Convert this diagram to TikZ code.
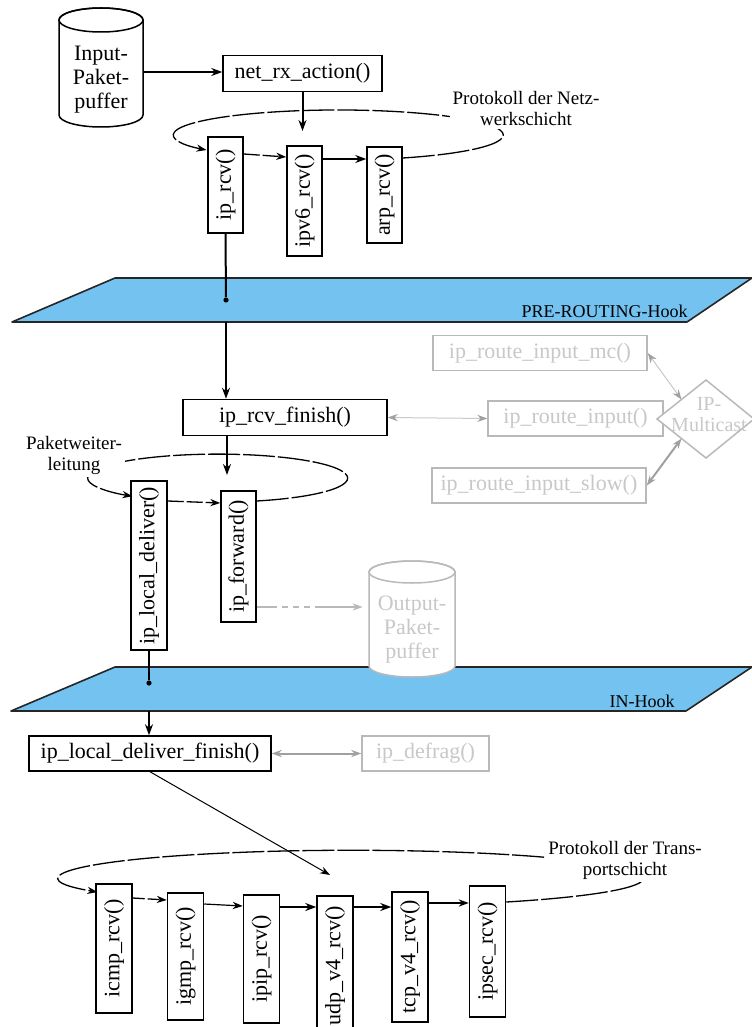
\documentclass[tikz,border=0pt]{standalone}
\usepackage{fontspec}
\setmainfont{Liberation Serif}
\usetikzlibrary{arrows.meta,calc}

\definecolor{hookblue}{RGB}{115,194,240}
\definecolor{paleline}{RGB}{185,185,185}
\definecolor{paletext}{RGB}{200,200,200}
\definecolor{midgray}{RGB}{160,160,160}

\tikzset{
  boxfont/.style={font=\fontsize{11}{12}\selectfont},
  fn/.style={boxfont, draw, line width=0.75pt, fill=white, inner sep=0pt, minimum height=18pt},
  vfn/.style={fn, rotate=90, minimum height=17.5pt},
  ghost/.style={boxfont, draw=paleline, line width=0.75pt, fill=white, inner sep=0pt,
    text=paletext, minimum height=17.5pt},
  flow/.style={line width=1pt, -{Stealth[length=5.5pt,width=4pt]}},
  ring/.style={line width=0.65pt, dash pattern=on 16pt off 1.5pt},
  ringtip/.style={-{Stealth[length=5pt,width=3.6pt]}},
  hook/.style={fill=hookblue, draw=black!85, line width=0.8pt, line join=round},
  hooklabel/.style={font=\fontsize{9}{10}\selectfont, anchor=base east, inner sep=0pt},
  note/.style={fill=white, inner sep=1.5pt, align=center, font=\fontsize{9.5}{10.5}\selectfont},
  pierce/.style={circle, fill=black, inner sep=0pt, minimum size=2.6pt},
  link/.style={draw=#1, arrows={Stealth[length=5pt,width=3.6pt,color=midgray]-Stealth[length=5pt,width=3.6pt,color=midgray]}},
  bufline/.style={line width=0.75pt, fill=white},
}

\begin{document}
\begin{tikzpicture}[x=0.5pt, y=-0.5pt]
\useasboundingbox (0,0) rectangle (751,1027);

% ---------- input packet buffer ----------
\draw[bufline] (59,20) -- (59,115) arc[start angle=180, end angle=0, x radius=42, y radius=12]
  -- (143,20) arc[start angle=0, end angle=-180, x radius=42, y radius=12] -- cycle;
\draw[line width=0.75pt] (101,20) ellipse[x radius=42, y radius=12];
\node[boxfont, align=center, inner sep=0pt, minimum width=42pt, minimum height=50pt] (inbuf)
  at (101,80) {Input-\\Paket-\\puffer};

\node[fn, minimum width=79.5pt] (netrx) at (302.5,73.5) {net\_rx\_action()};
\draw[flow] (inbuf.east |- 0,72) -- (netrx.west |- 0,72);
\coordinate (netin) at (302.5,131);
\draw[flow] (netrx.south) -- (netin);

% ---------- network layer protocols ----------
\node[vfn, minimum width=48pt] (iprcv) at (225.5,185) {ip\_rcv()};
\node[vfn, minimum width=55pt] (ipv6) at (304.5,201) {ipv6\_rcv()};
\node[vfn, minimum width=48pt] (arp) at (384.5,195) {arp\_rcv()};

\draw[ring, ringtip] (arp.south |- 0,158) arc[start angle=67, end angle=-217, x radius=165, y radius=25];
\draw[ring, dash pattern=on 8pt off 1.5pt, ringtip] (iprcv.south |- 0,154) -- (ipv6.north |- 0,157);
\draw[flow] (ipv6.south |- 0,159) -- (arp.north |- 0,159);
\node[note] (netlbl) at (526,109) {Protokoll der Netz-\\werkschicht};

% ---------- PRE-ROUTING hook ----------
\draw[hook] (12,322) -- (115,278) -- (752,278) -- (687,322) -- cycle;
\node[hooklabel] (prelbl) at (688,317) {PRE-ROUTING-Hook};
\node[pierce] (predot) at (226,300) {};
\draw[line width=1pt] (iprcv.west) -- (predot);
\coordinate (preout) at (226,322);

\node[fn, minimum width=102pt] (iprcvfin) at (285,417.5) {ip\_rcv\_finish()};
\draw[flow] (preout) -- (preout |- iprcvfin.north);

% ---------- routing functions ----------
\node[ghost, minimum width=107pt] (rmc) at (540,353) {ip\_route\_input\_mc()};
\node[ghost, minimum width=87.5pt] (rin) at (575.5,418.5) {ip\_route\_input()};
\node[ghost, minimum width=107pt] (rslow) at (539,485.5) {ip\_route\_input\_slow()};

\coordinate (dN) at (706,380);
\coordinate (dE) at (754,419);
\coordinate (dS) at (706,458);
\coordinate (dW) at (657,419);
\draw[draw=paleline, line width=0.75pt, fill=white] (dN) -- (dE) -- (dS) -- (dW) -- cycle;
\node[text=paletext, align=center, inner sep=0pt, font=\fontsize{10}{10.5}\selectfont] (mcast)
  at (709,415) {IP-\\Multicast};

\draw[link=paletext, line width=0.5pt] (iprcvfin.east) -- (rin.west);
\draw[link=paletext, line width=0.5pt] (rmc.east) -- ($(dN)!0.5!(dW)$);
\draw[link=midgray, line width=1pt] (rslow.east) -- ($(dS)!0.5!(dW)$);

% ---------- packet forwarding ----------
\node[vfn, minimum width=84.5pt, minimum height=18pt] (localdel) at (149,565.5) {ip\_local\_deliver()};
\node[vfn, minimum width=65.5pt] (forward) at (238.5,556.5) {ip\_forward()};

\draw[ring, ringtip] (forward.south |- 0,501) arc[start angle=72.5, end angle=-229, x radius=130, y radius=24];
\draw[ring, dash pattern=on 8pt off 1.5pt, ringtip] (localdel.south |- 0,501) -- (forward.north |- 0,503);
\node[note] (fwdlbl) at (74,455) {Paketweiter-\\leitung};

\coordinate (fwdin) at (227,475);
\draw[flow] (fwdin |- iprcvfin.south) -- (fwdin);

% ---------- IN hook ----------
\draw[hook] (11,711) -- (115,667) -- (752,667) -- (686,711) -- cycle;
\node[hooklabel] (inlbl) at (675,707) {IN-Hook};
\node[pierce] (indot) at (149,683) {};
\draw[line width=1pt] (localdel.west) -- (indot);
\coordinate (inout) at (149,711);

% ---------- output packet buffer ----------
\draw[bufline, draw=paleline] (369,572) -- (369,666) arc[start angle=180, end angle=0, x radius=43, y radius=11]
  -- (455,572) arc[start angle=0, end angle=-180, x radius=43, y radius=11] -- cycle;
\draw[line width=0.75pt, draw=paleline] (412,572) ellipse[x radius=43, y radius=11];
\node[boxfont, text=paletext, align=center, inner sep=0pt, minimum width=43pt, minimum height=40pt] (outbuf)
  at (412,630) {Output-\\Paket-\\puffer};
\draw[draw=paleline, line width=0.75pt, dash pattern=on 10pt off 2.5pt on 3pt off 2.5pt on 3pt off 2.5pt on 3pt off 2.5pt on 30pt,
  -{Stealth[length=5pt,width=3.6pt]}, shorten >=3pt] (forward.south |- 0,607) -- (outbuf.west |- 0,607);

% ---------- local delivery ----------
\node[fn, minimum width=121pt, minimum height=17.5pt] (ldf) at (150,753.5) {ip\_local\_deliver\_finish()};
\draw[flow] (inout) -- (inout |- ldf.north);
\node[ghost, minimum width=63.5pt] (defrag) at (425.5,753.5) {ip\_defrag()};
\draw[link=midgray, line width=1pt] (ldf.east) -- (defrag.west);

% ---------- transport layer protocols ----------
\node[vfn, minimum width=64.5pt, minimum height=18pt] (icmp) at (114,948.5) {icmp\_rcv()};
\node[vfn, minimum width=63.5pt, minimum height=18pt] (igmp) at (185.5,956.5) {igmp\_rcv()};
\node[vfn, minimum width=64pt, minimum height=18pt] (ipip) at (261.5,959) {ipip\_rcv()};
\node[vfn, minimum width=70pt, minimum height=18pt] (udp) at (335,966) {udp\_v4\_rcv()};
\node[vfn, minimum width=65pt, minimum height=18pt] (tcp) at (410,957) {tcp\_v4\_rcv()};
\node[vfn, minimum width=65.5pt, minimum height=18pt] (ipsec) at (487.5,951.5) {ipsec\_rcv()};

\draw[ring, ringtip] (ipsec.south |- 0,902) arc[start angle=58, end angle=-209.5, x radius=292, y radius=28];
\draw[ring, dash pattern=on 6pt off 1.5pt, ringtip] (icmp.south |- 0,898) -- (igmp.north |- 0,900);
\draw[line width=0.6pt, ringtip] (igmp.south |- 0,904) -- (ipip.north |- 0,906);
\draw[flow] (ipip.south |- 0,907) -- (udp.north |- 0,907);
\draw[flow] (udp.south |- 0,907) -- (tcp.north |- 0,907);
\draw[line width=0.8pt, ringtip] (tcp.south |- 0,903) -- (ipsec.north |- 0,903);
\node[note] (tplbl) at (625,860) {Protokoll der Trans-\\portschicht};

\coordinate (udpin) at (330,875);
\draw[line width=0.5pt, -{Stealth[length=5pt,width=3.6pt]}] (ldf.south) -- (udpin);
\end{tikzpicture}
\end{document}
